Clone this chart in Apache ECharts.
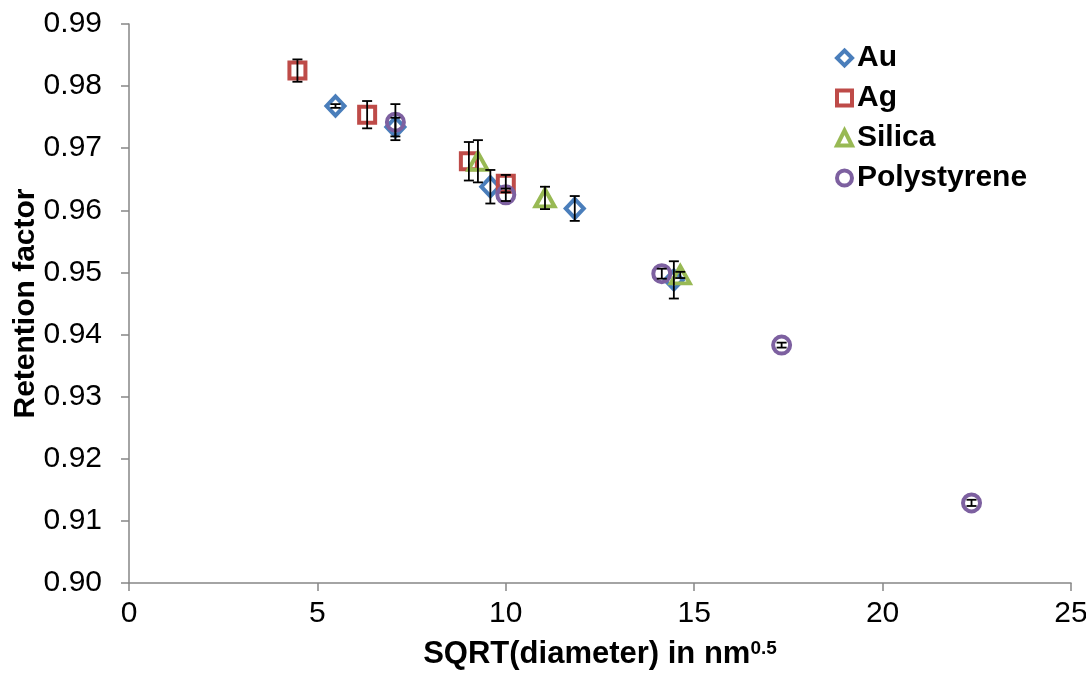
<!DOCTYPE html>
<html>
<head>
<meta charset="utf-8">
<script src="https://cdn.jsdelivr.net/npm/echarts@6/dist/echarts.min.js"></script>
<style>
  html, body { margin: 0; padding: 0; background: #fff; }
  #chart { width: 1086px; height: 673px; }
</style>
</head>
<body>
<div id="chart"></div>
<script>
// values (x = sqrt(diameter), y = retention factor, err = +/-)
const auX = [5.48, 7.07, 9.59, 11.83, 14.46];
const auY = [0.9768, 0.9734, 0.9638, 0.9603, 0.9488];
const auErr = [0.0003, 0.0015, 0.0027, 0.0020, 0.0030];

const agX = [4.47, 6.32, 9.02, 10.0];
const agY = [0.9825, 0.9754, 0.9679, 0.9643];
const agErr = [0.0018, 0.0022, 0.0031, 0.0014];

const silX = [9.26, 11.04, 14.63];
const silY = [0.9679, 0.9620, 0.9496];
const silErr = [0.0034, 0.0018, 0.0005];

const psX = [7.07, 10.0, 14.14, 17.32, 22.36];
const psY = [0.9742, 0.9625, 0.9498, 0.9383, 0.9129];
const psErr = [0.0029, 0.0010, 0.0008, 0.0004, 0.0005];

const names = ['Au', 'Ag', 'Silica', 'Polystyrene'];
const colors = ['#4a7ebb', '#be4b48', '#98b954', '#7d60a0'];
const symbols = ['diamond', 'rect', 'triangle', 'circle'];
const sizes = [[18, 19], 16, [19, 17], 17];

const groups = [
  [auX, auY, auErr],
  [agX, agY, agErr],
  [silX, silY, silErr],
  [psX, psY, psErr]
];

const font = '"Liberation Sans", Arial, sans-serif';

// error bars, black with small caps
function errorBar(params, api) {
  const x = api.value(0);
  const y = api.value(1);
  const e = api.value(2);
  const top = api.coord([x, y + e]);
  const bot = api.coord([x, y - e]);
  const cap = 5;
  const style = { stroke: '#000', lineWidth: 1.8 };
  return {
    type: 'group',
    children: [
      { type: 'line', shape: { x1: top[0], y1: top[1], x2: bot[0], y2: bot[1] }, style },
      { type: 'line', shape: { x1: top[0] - cap, y1: top[1], x2: top[0] + cap, y2: top[1] }, style },
      { type: 'line', shape: { x1: bot[0] - cap, y1: bot[1], x2: bot[0] + cap, y2: bot[1] }, style }
    ]
  };
}

const series = [];
groups.forEach((g, i) => {
  const pts = g[0].map((x, k) => [x, g[1][k]]);
  series.push({
    name: names[i],
    type: 'scatter',
    symbol: symbols[i],
    symbolSize: sizes[i],
    data: pts,
    z: 2,
    itemStyle: { color: 'rgba(255,255,255,0)', borderColor: colors[i], borderWidth: 4, opacity: 1 }
  });
});
groups.forEach((g, i) => {
  series.push({
    type: 'custom',
    renderItem: errorBar,
    data: g[0].map((x, k) => [x, g[1][k], g[2][k]]),
    encode: { x: 0, y: 1 },
    z: 3,
    silent: true
  });
});

const chart = echarts.init(document.getElementById('chart'));
chart.setOption({
  animation: false,
  backgroundColor: '#fff',
  grid: { left: 129, right: 15, top: 24, bottom: 90, containLabel: false, outerBoundsMode: 'none' },
  legend: {
    data: names,
    orient: 'vertical',
    left: 830,
    top: 38,
    itemWidth: 15,
    itemHeight: 15,
    itemGap: 10,
    itemStyle: { borderWidth: 4, opacity: 1 },
    textStyle: { fontFamily: font, fontSize: 30, fontWeight: 'bold', color: '#000', lineHeight: 30 }
  },
  xAxis: {
    type: 'value',
    min: 0,
    max: 25,
    interval: 5,
    name: '{a|SQRT(diameter) in nm}{s|0.5}',
    nameLocation: 'middle',
    nameGap: 56,
    nameMoveOverlap: false,
    nameTextStyle: {
      rich: {
        a: { fontFamily: font, fontSize: 31, fontWeight: 'bold', color: '#000' },
        s: { fontFamily: font, fontSize: 19, fontWeight: 'bold', color: '#000', verticalAlign: 'top' }
      }
    },
    splitLine: { show: false },
    axisLine: { lineStyle: { color: '#868686', width: 1.5 } },
    axisTick: { inside: false, length: 8, lineStyle: { color: '#868686', width: 1.5 } },
    axisLabel: { fontFamily: font, fontSize: 30, color: '#000', margin: 16 }
  },
  yAxis: {
    type: 'value',
    min: 0.9,
    max: 0.99,
    interval: 0.01,
    name: 'Retention factor',
    nameLocation: 'middle',
    nameGap: 88,
    nameMoveOverlap: false,
    nameTextStyle: { fontFamily: font, fontSize: 30, fontWeight: 'bold', color: '#000' },
    splitLine: { show: false },
    axisLine: { lineStyle: { color: '#868686', width: 1.5 } },
    axisTick: { inside: false, length: 8, lineStyle: { color: '#868686', width: 1.5 } },
    axisLabel: {
      fontFamily: font, fontSize: 30, color: '#000', margin: 27,
      formatter: v => v.toFixed(2)
    }
  },
  series: series
});
</script>
</body>
</html>
